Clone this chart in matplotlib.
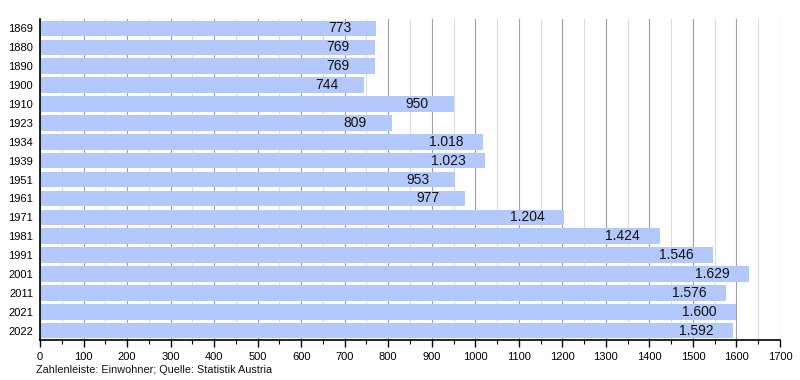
import matplotlib
matplotlib.use("Agg")
import matplotlib.pyplot as plt
from matplotlib.ticker import MultipleLocator

plt.rcParams["font.family"] = ["Liberation Sans", "DejaVu Sans"]

years = ["1869", "1880", "1890", "1900", "1910", "1923", "1934", "1939", "1951",
         "1961", "1971", "1981", "1991", "2001", "2011", "2021", "2022"]
values = [773, 769, 769, 744, 950, 809, 1018, 1023, 953, 977, 1204, 1424, 1546,
          1629, 1576, 1600, 1592]

def de_fmt(v):
    return f"{v:,}".replace(",", ".")

fig = plt.figure(figsize=(8, 3.8), dpi=100)
ax = fig.add_axes([0.05, 0.105, 0.925, 0.845])

ypos = list(range(len(years)))
ax.barh(ypos, values, height=0.82, color="#b3c8fb", zorder=2)
for y, v in zip(ypos, values):
    ax.text(v - 85, y, de_fmt(v), ha="center", va="center", fontsize=10,
            color="#111111", zorder=3)

ax.set_xlim(0, 1700)
ax.set_ylim(len(years) - 0.5, -0.5)
ax.set_yticks(ypos)
ax.set_yticklabels(years, fontsize=8)
ax.xaxis.set_major_locator(MultipleLocator(100))
ax.xaxis.set_minor_locator(MultipleLocator(50))
ax.tick_params(axis="x", labelsize=8, length=5, width=1, direction="out")
ax.tick_params(axis="x", which="minor", length=3, width=0.8)
ax.tick_params(axis="y", length=0, pad=5)
ax.grid(axis="x", which="major", color="#a0a0a0", linewidth=0.8, zorder=0)
ax.grid(axis="x", which="minor", color="#dcdcdc", linewidth=0.8, zorder=0)
for s in ["top", "right"]:
    ax.spines[s].set_visible(False)
ax.spines["left"].set_linewidth(1.2)
ax.spines["bottom"].set_linewidth(1.2)

fig.text(0.045, 0.026, "Zahlenleiste: Einwohner; Quelle: Statistik Austria",
         fontsize=7.8, color="#111111", ha="left", va="center")

fig.savefig("out.png", dpi=100)
